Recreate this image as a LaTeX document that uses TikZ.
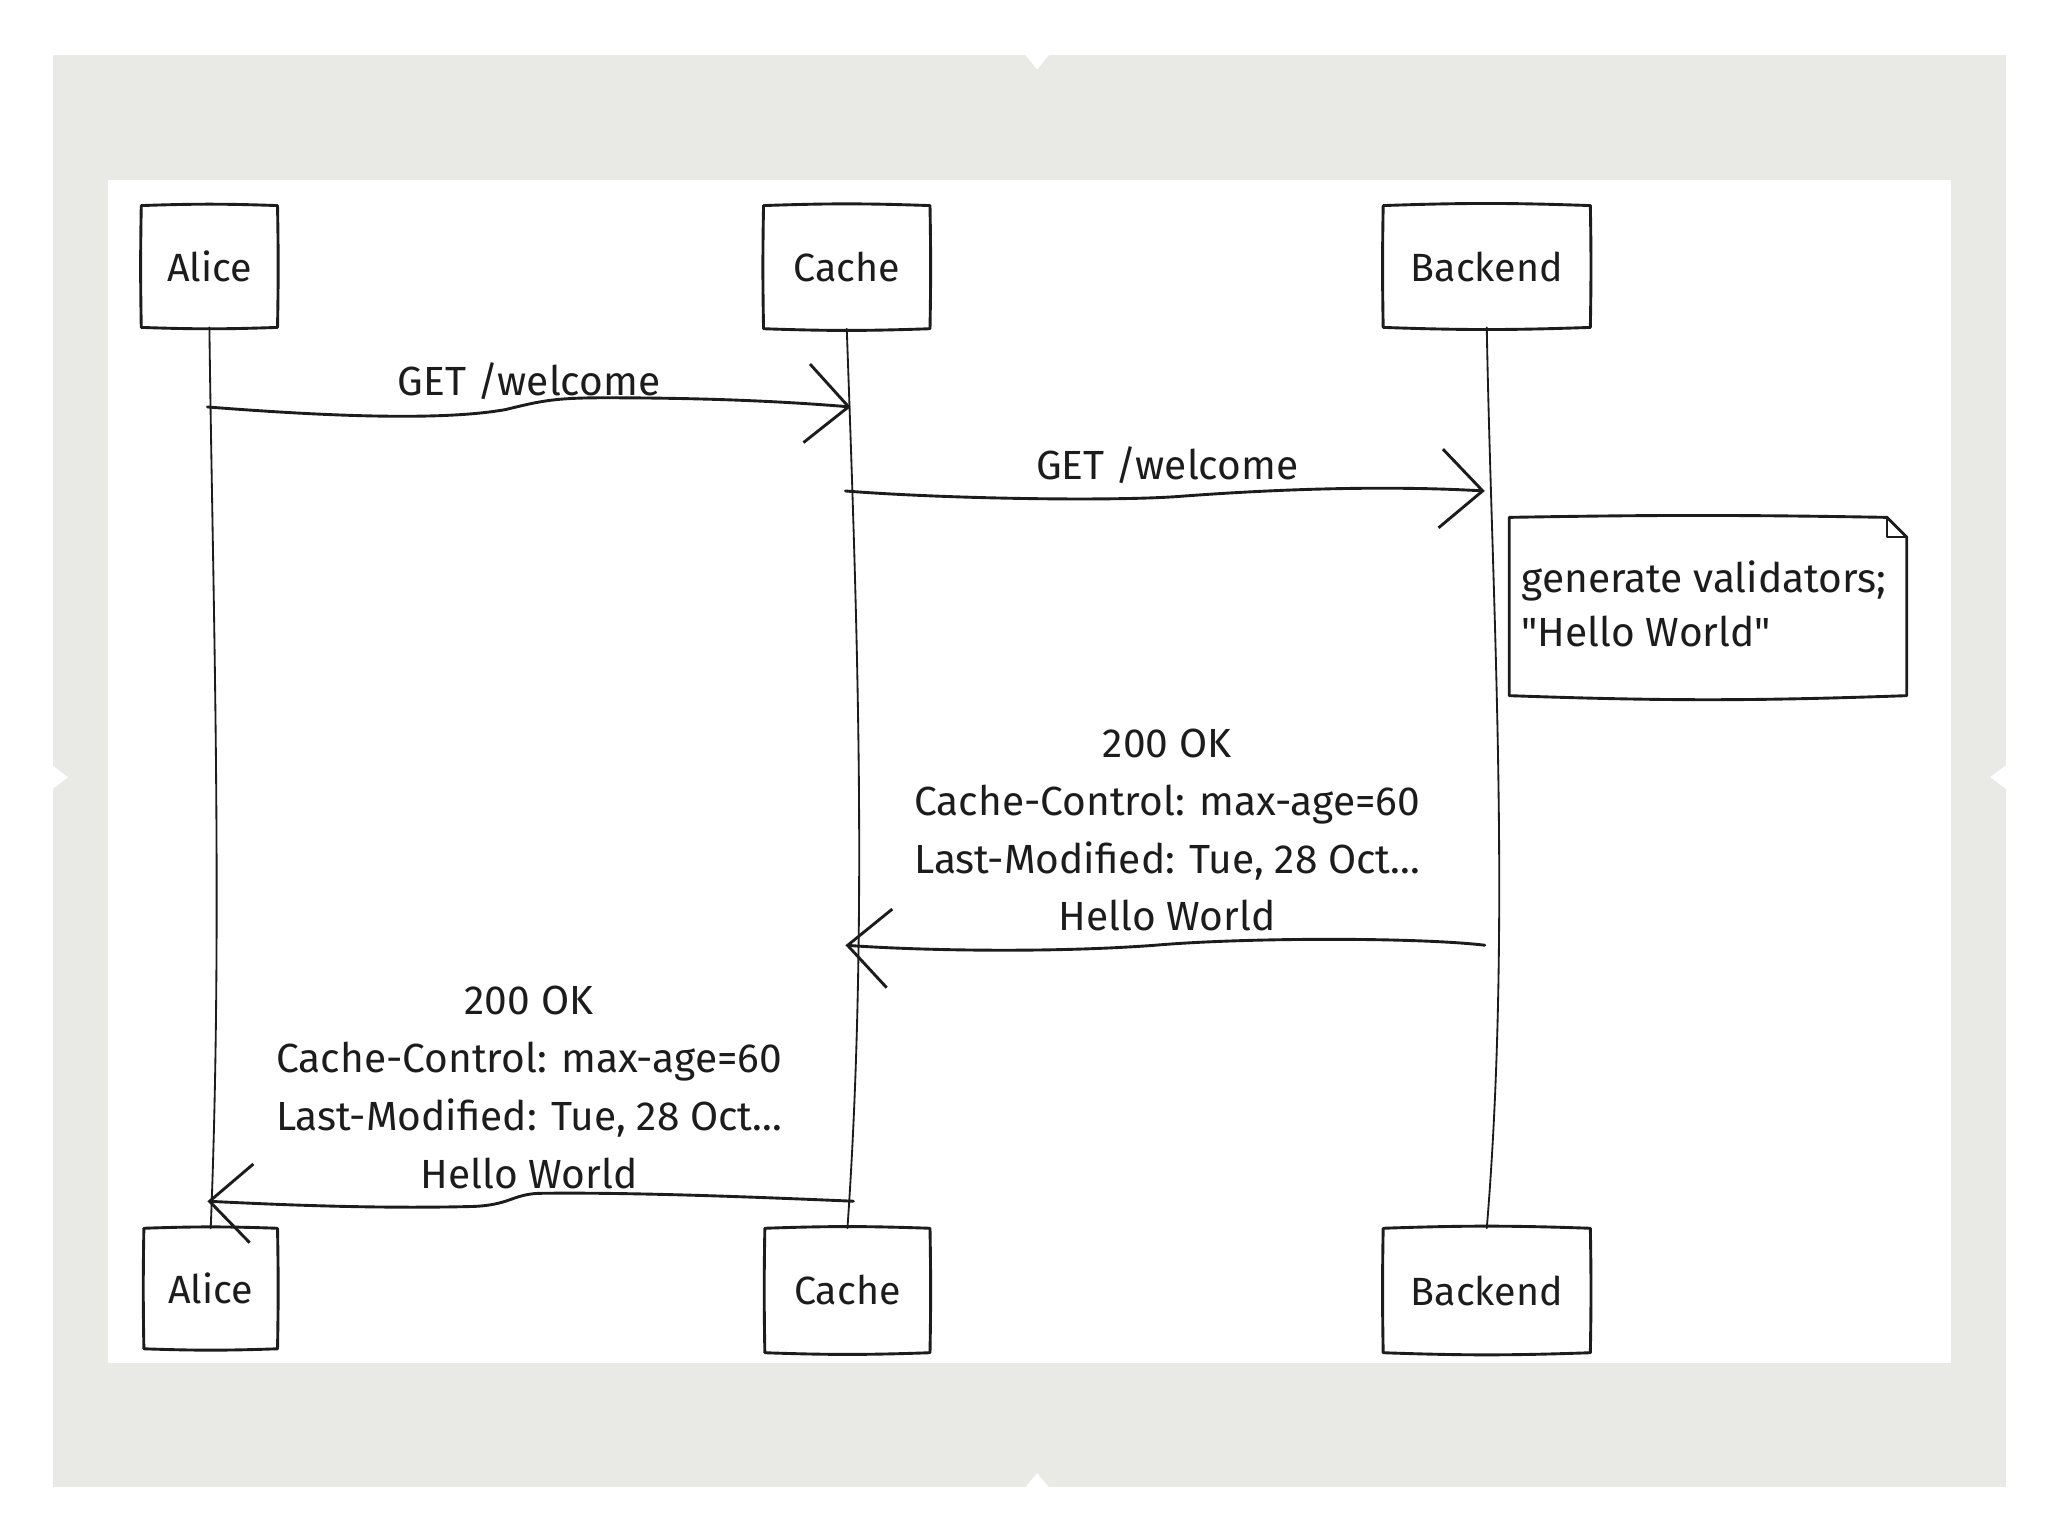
\documentclass[tikz,border=0pt]{standalone}
\usepackage{fontspec}
\setmainfont{Fira Sans}[Ligatures=TeXOff]
\usetikzlibrary{arrows.meta,calc}
\definecolor{bggray}{RGB}{233,233,229}
\definecolor{ink}{RGB}{28,28,28}
\newcommand{\sketchbox}[1]{%
  \draw[boxline] (#1.north west) to[bend left=2] (#1.north east)
    to[bend left=1] (#1.south east) to[bend left=2] (#1.south west)
    to[bend left=1] (#1.north west);}
\begin{document}
\begin{tikzpicture}[x=0.5pt,y=-0.5pt,line join=round,line cap=round,
  boxline/.style={draw=ink,line width=1.1pt},
  actor/.style={inner sep=0pt,font=\fontsize{15}{18}\selectfont,text=ink},
  life/.style={draw=ink,line width=0.7pt},
  msg/.style={draw=ink,line width=1.1pt,-{Straight Barb[length=16pt,width=30pt,line width=1.1pt]}},
  lbl/.style={align=center,font=\fontsize{15.5}{22}\selectfont,text=ink,inner sep=0pt},
  notetxt/.style={align=left,font=\fontsize{15.5}{20.5}\selectfont,text=ink,inner sep=0pt}]
\useasboundingbox (0,0) rectangle (1560,1170);
% background
\fill[bggray] (40,42) rectangle (1528,1133);
\fill[white] (781,42) -- (799,42) -- (790,53) -- cycle;
\fill[white] (781,1133) -- (799,1133) -- (790,1122) -- cycle;
\fill[white] (40,583) -- (40,601) -- (52,592) -- cycle;
\fill[white] (1528,583) -- (1528,601) -- (1516,592) -- cycle;
\fill[white] (82,137) rectangle (1486,1038);
% actors
\node[actor,minimum width=51.5pt,minimum height=46pt] (aliceT) at (159.5,203) {Alice};
\node[actor,minimum width=63pt,minimum height=46.5pt] (cacheT) at (645,203.5) {Cache};
\node[actor,minimum width=78.5pt,minimum height=46pt] (backT) at (1132.5,203) {Backend};
\node[actor,minimum width=50.5pt,minimum height=45.5pt] (aliceB) at (160.5,981.5) {Alice};
\node[actor,minimum width=62.5pt,minimum height=47pt] (cacheB) at (645.5,983) {Cache};
\node[actor,minimum width=78.5pt,minimum height=47pt] (backB) at (1132.5,983) {Backend};
\sketchbox{aliceT}\sketchbox{cacheT}\sketchbox{backT}
\sketchbox{aliceB}\sketchbox{cacheB}\sketchbox{backB}
% lifelines
\draw[life] (aliceT.south) .. controls (162,450) and (170,700) .. (aliceB.north);
\draw[life] (cacheT.south) .. controls (652,450) and (662,700) .. (cacheB.north);
\draw[life] (backT.south) .. controls (1136,450) and (1152,700) .. (backB.north);
% message end points
\coordinate (m1s) at (158,310); \coordinate (m1e) at (648,310);
\coordinate (m2s) at (644,374); \coordinate (m2e) at (1131,374);
\coordinate (m3s) at (1131,720); \coordinate (m3e) at (644,720);
\coordinate (m4s) at (650,915); \coordinate (m4e) at (158,915);
% messages
\draw[msg] (m1s) .. controls (260,318) and (340,320) .. (385,312)
  .. controls (410,306) and (420,303) .. (460,303)
  .. controls (540,303) and (600,306) .. (m1e);
\draw[msg] (m2s) .. controls (720,380) and (850,382) .. (900,378)
  .. controls (980,372) and (1060,370) .. (m2e);
\draw[msg] (m3s) .. controls (1080,714) and (950,714) .. (880,720)
  .. controls (800,726) and (700,724) .. (m3e);
\draw[msg] (m4s) .. controls (580,912) and (480,908) .. (410,909)
  .. controls (390,910) and (388,918) .. (360,919)
  .. controls (280,921) and (200,917) .. (m4e);
% labels
\node[lbl] (l1) at (403,290) {GET /welcome};
\node[lbl] (l2) at (889,354) {GET /welcome};
\node[lbl,anchor=north] (l3) at (889,555) {200 OK\\Cache-Control: max-age=60\\Last-Modified: Tue, 28 Oct...\\Hello World};
\node[lbl,anchor=north] (l4) at (403,751) {200 OK\\Cache-Control: max-age=60\\Last-Modified: Tue, 28 Oct...\\Hello World};
% note
\node[minimum width=151pt,minimum height=67.5pt,inner sep=0pt] (note) at (1301,462) {};
\draw[boxline] (note.north west) to[bend left=1] ($(note.north east)+(-15,0)$)
  -- ($(note.north east)+(0,15)$) -- (note.south east)
  to[bend left=2] (note.south west) -- cycle;
\draw[boxline,line width=0.8pt] ($(note.north east)+(-15,0)$) -- ($(note.north east)+(-15,15)$) -- ($(note.north east)+(0,15)$);
\node[notetxt,anchor=west] (notetext) at ($(note.west)+(9,-2)$) {generate validators;\\"Hello World"};
\end{tikzpicture}
\end{document}
